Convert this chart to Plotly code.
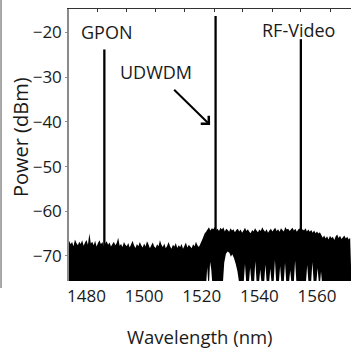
import plotly.graph_objects as go

# Spectrum upper envelope (top edge of the noise floor), dBm every 0.5 nm from 1474 nm
upper_db = [
    # 1474.0 - 1519.5
    -66.6, -67.4, -66.9, -67.8, -66.3, -67.1, -67.6, -66.8, -67.3, -66.5,
    -67.7, -67.0, -66.4, -67.5, -65.0, -67.2, -66.8, -67.6, -66.6, -67.9,
    -67.1, -66.5, -67.4, -66.9, -67.8, -67.2, -66.7, -67.5, -67.0, -67.9,
    -67.3, -66.8, -67.6, -67.1, -65.9, -67.7, -67.3, -68.0, -66.9, -67.5,
    -67.8, -67.1, -68.1, -67.4, -66.6, -67.6, -68.2, -67.3, -67.8, -66.9,
    -67.6, -68.1, -67.2, -67.9, -66.7, -67.4, -68.3, -67.6, -67.0, -67.9,
    -68.2, -67.4, -67.8, -66.5, -67.5, -68.0, -67.2, -68.3, -67.7, -66.9,
    -67.8, -68.4, -67.5, -67.9, -67.1, -68.2, -67.6, -68.0, -67.3, -68.4,
    -67.7, -67.0, -68.1, -67.5, -67.9, -68.3, -67.4, -67.8, -66.8, -67.6,
    -68.0, -67.3,
    # 1520.0 - 1521.5
    -66.6, -65.8, -65.0, -64.6,
    # 1522.0 - 1561.0
    -64.1, -63.6, -64.3, -63.8, -64.0, -63.5, -64.2, -63.9, -64.4, -63.7,
    -64.1, -63.6, -64.5, -63.9, -64.2, -64.6, -63.8, -64.3, -64.0, -64.7,
    -64.2, -63.9, -64.5, -64.1, -64.8, -64.3, -63.7, -64.4, -64.0, -64.6,
    -64.9, -64.2, -64.5, -63.8, -64.3, -64.7, -64.1, -64.4, -63.6, -64.2,
    -64.6, -64.0, -64.8, -64.3, -63.9, -64.5, -64.1, -63.7, -64.4, -64.0,
    -64.6, -63.8, -64.2, -64.5, -63.5, -64.1, -63.9, -64.4, -64.0, -63.7,
    -64.3, -63.9, -64.6, -64.1, -63.8, -64.4, -64.0, -64.3, -63.8, -64.5,
    -64.1, -64.6, -64.2, -64.8, -64.3, -64.9, -64.5, -65.0, -64.7,
    # 1561.5 - 1571.5
    -65.3, -65.9, -65.4, -66.1, -65.6, -66.3, -65.5, -66.0, -65.7, -66.4,
    -65.6, -65.2, -66.0, -65.5, -66.2, -65.8, -65.4, -66.1, -65.7, -66.3,
    -65.9,
]
wl = [1474 + 0.5 * i for i in range(len(upper_db))]

# Lower envelope of the trace (where the noise does not reach the bottom)
lower_wl = [
    1473.0, 1521.5, 1521.9, 1522.3, 1522.5, 1522.9, 1523.3, 1523.7,
    1527.3, 1527.8, 1528.4, 1529.0, 1529.6, 1530.1, 1530.6, 1531.2, 1531.8, 1532.4, 1533.1,
    1534.5, 1535.0, 1535.5, 1536.3, 1536.8, 1537.3, 1538.1, 1538.6, 1539.1,
    1539.8, 1540.3, 1540.8, 1541.6, 1542.1, 1542.6, 1543.3, 1543.8, 1544.3,
    1544.9, 1545.4, 1545.9, 1546.7, 1547.2, 1547.7, 1548.4, 1548.9, 1549.4,
    1550.2, 1550.7, 1551.2, 1551.9, 1552.4, 1552.9,
    1556.1, 1556.6, 1557.1, 1557.9, 1558.4, 1558.9, 1559.7, 1560.2, 1560.7,
    1561.0, 1561.4, 1561.8, 1572.0,
]
lower_db = [
    -76.5, -76.5, -72.5, -76.5, -76.5, -71.3, -73.0, -76.5,
    -76.5, -71.5, -69.5, -69.0, -69.3, -70.2, -69.6, -70.5, -71.8, -73.5, -76.5,
    -76.5, -71.8, -76.5, -76.5, -72.6, -76.5, -76.5, -71.2, -76.5,
    -76.5, -73.0, -76.5, -76.5, -71.9, -76.5, -76.5, -72.8, -76.5,
    -76.5, -70.9, -76.5, -76.5, -72.3, -76.5, -76.5, -71.5, -76.5,
    -76.5, -73.2, -76.5, -76.5, -71.0, -76.5,
    -76.5, -72.0, -76.5, -76.5, -71.4, -76.5, -76.5, -72.7, -76.5,
    -76.5, -73.5, -76.5, -76.5,
]

# Signal peaks
peak_names = ["GPON", "UDWDM", "RF-Video"]
peak_wl = [1486.2, 1524.8, 1554.4]
peak_db = [-23.8, -16.3, -21.5]

x_ticks = [1480, 1500, 1520, 1540, 1560]
y_ticks = [-70, -60, -50, -40, -30, -20]
top_ticks = [1483.7, 1493.9, 1504.0, 1514.0, 1524.3, 1534.3, 1544.4, 1554.4, 1564.8]

x_range = [1473.93, 1571.8]
y_range = [-75.6, -14.75]

FONT = "Open Sans"
INK = "#1a1a1a"

fig = go.Figure()

# Noise floor as a filled band between the upper and lower envelopes
fig.add_trace(go.Scatter(
    x=wl + lower_wl[::-1],
    y=upper_db + lower_db[::-1],
    fill="toself", fillcolor="black",
    mode="lines", line=dict(color="black", width=0, simplify=False),
    hoverinfo="skip", showlegend=False,
))

for name, x, y in zip(peak_names, peak_wl, peak_db):
    fig.add_trace(go.Scatter(
        x=[x, x], y=[-76.5, y], mode="lines",
        line=dict(color="black", width=2.3),
        name=name, showlegend=False,
    ))

# Invisible trace that anchors the top axis
fig.add_trace(go.Scatter(x=[x_range[0]], y=[y_range[0]], xaxis="x2",
                         mode="markers", marker=dict(opacity=0),
                         showlegend=False, hoverinfo="skip"))

fig.update_layout(
    width=351, height=351,
    margin=dict(l=69, r=0, t=9, b=70),
    paper_bgcolor="white", plot_bgcolor="white",
    font=dict(family=FONT, color=INK),
    xaxis=dict(
        range=x_range, tickvals=x_ticks, ticktext=[str(v) for v in x_ticks],
        showgrid=False, zeroline=False, showline=False,
        ticks="", ticklabelstandoff=3,
        tickfont=dict(size=17, family=FONT, color=INK),
    ),
    xaxis2=dict(
        range=x_range, overlaying="x", side="top", anchor="y",
        tickvals=top_ticks, showticklabels=False,
        ticks="inside", ticklen=3, tickcolor="#333", tickwidth=1,
        showline=True, linecolor="#333", linewidth=1.2,
        showgrid=False, zeroline=False,
    ),
    yaxis=dict(
        range=y_range, tickvals=y_ticks,
        showgrid=False, zeroline=False,
        showline=True, linecolor="#8a8a8a", linewidth=1.5,
        ticks="outside", ticklen=2, tickcolor="#8a8a8a",
        tickfont=dict(size=17, family=FONT, color=INK),
    ),
)

# Axis titles
fig.add_annotation(xref="paper", yref="paper", x=0.465, y=-0.204,
                   xanchor="center", yanchor="middle",
                   text="Wavelength (nm)", showarrow=False,
                   font=dict(size=18.5, family=FONT, color=INK))
fig.add_annotation(xref="paper", yref="paper", x=-0.172, y=0.531,
                   xanchor="center", yanchor="middle",
                   text="Power (dBm)", textangle=-90, showarrow=False,
                   font=dict(size=20, family=FONT, color=INK))

# Peak labels and arrow
fig.add_annotation(x=1486.8, y=-20.0, text="GPON", showarrow=False,
                   font=dict(size=18, family=FONT, color=INK))
fig.add_annotation(x=1503.95, y=-28.95, text="UDWDM", showarrow=False,
                   font=dict(size=18, family=FONT, color=INK))
fig.add_annotation(x=1553.6, y=-19.4, text="RF-Video", showarrow=False,
                   font=dict(size=18, family=FONT, color=INK))
fig.add_annotation(x=1522.9, y=-40.7, ax=1509.9, ay=-32.5,
                   xref="x", yref="y", axref="x", ayref="y",
                   text="", showarrow=True, arrowhead=4, arrowsize=1.1,
                   arrowwidth=2, arrowcolor="black")

# Edge of the neighbouring panel on the left
fig.add_shape(type="line", xref="paper", yref="paper",
              x0=-0.241, x1=-0.241, y0=1.04, y1=-0.026,
              line=dict(color="#8a8a8a", width=1.5))

fig.write_html("out.html")
